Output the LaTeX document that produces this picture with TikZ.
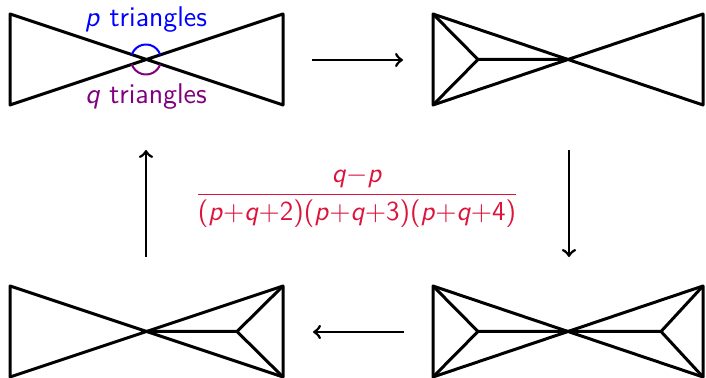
\documentclass[tikz,border=0pt]{standalone}
\usetikzlibrary{arrows}
\definecolor{pcol}{RGB}{0,0,255}
\definecolor{qcol}{RGB}{128,0,128}
\definecolor{fcol}{RGB}{220,20,60}
\newcommand\mv[1]{\mbox{\textsl{#1}}}
\newcommand\tx[1]{\mbox{#1}}
\begin{document}
\begin{tikzpicture}[x=0.4pt,y=-0.4pt,
  edge/.style={line width=1.2pt,line join=round},
  flow/.style={line width=1.1pt,->,>=to},
  lab/.style={font=\fontsize{11.4}{13}\selectfont\sffamily,inner sep=0pt},
  fraclab/.style={font=\fontsize{11}{13}\selectfont\sffamily,inner sep=0pt}]
\useasboundingbox (0,0) rectangle (706,378);
% top-left bowtie
\coordinate (a1) at (10,14); \coordinate (a2) at (10,105);
\coordinate (a3) at (283,14); \coordinate (a4) at (283,105);
\coordinate (ac) at (146,59.5);
\draw[edge] (a1) -- (a4) -- (a3) -- (a2) -- cycle;
\draw[pcol,line width=0.8pt] (ac) ++(198:15) arc[start angle=198,end angle=342,radius=15];
\draw[qcol,line width=0.8pt] (ac) ++(18:15) arc[start angle=18,end angle=162,radius=15];
\node[lab,text=pcol] (pl) at (146,20) {\mv{p} triangles};
\node[lab,text=qcol] (ql) at (146,97) {\mv{q} triangles};
% top-right bowtie
\coordinate (b1) at (433,14); \coordinate (b2) at (433,105);
\coordinate (b3) at (703,14); \coordinate (b4) at (703,105);
\coordinate (bc) at (568,59.5); \coordinate (bi) at (478,59.5);
\draw[edge] (b1) -- (b4) -- (b3) -- (b2) -- cycle;
\draw[edge] (b1) -- (bi) -- (b2) (bi) -- (bc);
% bottom-right bowtie
\coordinate (c1) at (433,286); \coordinate (c2) at (433,377);
\coordinate (c3) at (703,286); \coordinate (c4) at (703,377);
\coordinate (cc) at (568,331.5); \coordinate (ci) at (478,331.5); \coordinate (cj) at (661,331.5);
\draw[edge] (c1) -- (c4) -- (c3) -- (c2) -- cycle;
\draw[edge] (c1) -- (ci) -- (c2) (ci) -- (cj) (c3) -- (cj) -- (c4);
% bottom-left bowtie
\coordinate (d1) at (10,286); \coordinate (d2) at (10,377);
\coordinate (d3) at (283,286); \coordinate (d4) at (283,377);
\coordinate (dc) at (146,331.5); \coordinate (dj) at (237,331.5);
\draw[edge] (d1) -- (d4) -- (d3) -- (d2) -- cycle;
\draw[edge] (dc) -- (dj) (d3) -- (dj) -- (d4);
% arrows
\coordinate (s1) at (312,60); \coordinate (e1) at (403,60);
\coordinate (s2) at (569,150); \coordinate (e2) at (569,257);
\coordinate (s3) at (404,332); \coordinate (e3) at (313,332);
\coordinate (s4) at (146,257); \coordinate (e4) at (146,150);
\draw[flow] (s1) -- (e1);
\draw[flow] (s2) -- (e2);
\draw[flow] (s3) -- (e3);
\draw[flow] (s4) -- (e4);
% fraction
\node[fraclab,text=fcol] (fr) at (357,197) {$\displaystyle\frac{\mv{q}{-}\mv{p}}{\tx{(}\mv{p}{+}\mv{q}{+}\tx{2)(}\mv{p}{+}\mv{q}{+}\tx{3)(}\mv{p}{+}\mv{q}{+}\tx{4)}}$};
\end{tikzpicture}
\end{document}
